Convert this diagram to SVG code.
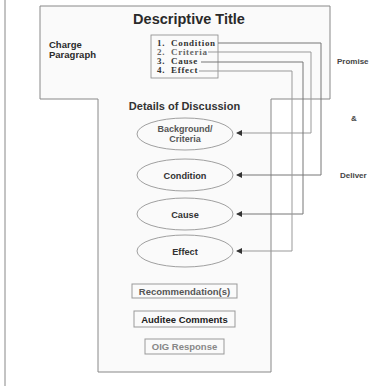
<svg xmlns="http://www.w3.org/2000/svg" width="371" height="386" viewBox="0 0 371 386">
<defs>
<style>
.b{font-family:"Liberation Sans",Arial,sans-serif;font-weight:bold}
.s{font-family:"Liberation Serif","Times New Roman",serif;font-weight:bold;font-size:9px;letter-spacing:0.7px;fill:#333}
.g{fill:#666}
.c{fill:none;stroke:#999;stroke-width:1}
.d{stroke:#777}
.e{fill:#fafafa;stroke:#888;stroke-width:0.8}
.r{fill:#fafafa;stroke:#999;stroke-width:1}
</style>
<marker id="ah" markerWidth="6" markerHeight="6" refX="5" refY="3" orient="auto" markerUnits="userSpaceOnUse">
<path d="M0,0 L6,3 L0,6 Z" fill="#333"/>
</marker>
</defs>
<rect width="371" height="386" fill="#fff"/>
<line x1="5" y1="0" x2="5" y2="386" stroke="#888" stroke-width="1"/>
<g id="frame">
<path d="M40,6 H330 V99 H271 V372 H98 V99 H40 Z" fill="#fafafa" stroke="#888" stroke-width="1"/>
</g>
<g id="title"><text class="b" x="189" y="24" font-size="14.5" text-anchor="middle" fill="#2a2a2a">Descriptive Title</text></g>
<g id="charge"><text class="b" x="49" y="48" font-size="9.5" fill="#2a2a2a">Charge</text><text class="b" x="49" y="58" font-size="9.5" fill="#2a2a2a">Paragraph</text></g>
<g id="list">
<rect x="151" y="35" width="67" height="43" fill="#fafafa" stroke="#888" stroke-width="0.8"/>
<text class="s" x="157" y="46">1.</text><text class="s" x="171" y="46">Condition</text>
<text class="s g" x="157" y="55">2.</text><text class="s g" x="171" y="55">Criteria</text>
<text class="s" x="157" y="64">3.</text><text class="s" x="171" y="64">Cause</text>
<text class="s" x="157" y="73">4.</text><text class="s" x="171" y="73">Effect</text>
</g>
<g id="details"><text class="b" x="184.5" y="109.5" font-size="11" text-anchor="middle" fill="#333">Details of Discussion</text></g>
<g id="connectors">
<polyline class="c d" points="218,43 321,43 321,175 237,175" marker-end="url(#ah)"/>
<polyline class="c" points="208,52 311,52 311,133 237,133" marker-end="url(#ah)"/>
<polyline class="c d" points="201,62 303,62 303,214 237,214" marker-end="url(#ah)"/>
<polyline class="c" points="199,71 292,71 292,251 237,251" marker-end="url(#ah)"/>
</g>
<g id="background"><ellipse class="e" cx="185" cy="134" rx="48" ry="16"/><text class="b" x="185" y="132" font-size="9" text-anchor="middle" fill="#555">Background/</text><text class="b" x="185" y="142" font-size="9" text-anchor="middle" fill="#555">Criteria</text></g>
<g id="condition"><ellipse class="e" cx="185" cy="175" rx="48" ry="16"/><text class="b" x="185" y="178.5" font-size="9.2" text-anchor="middle" fill="#333">Condition</text></g>
<g id="cause"><ellipse class="e" cx="185" cy="214" rx="48" ry="16"/><text class="b" x="185" y="217.5" font-size="9.2" text-anchor="middle" fill="#333">Cause</text></g>
<g id="effect"><ellipse class="e" cx="185" cy="251" rx="48" ry="16"/><text class="b" x="185" y="254.5" font-size="9.2" text-anchor="middle" fill="#333">Effect</text></g>
<g id="recommendations"><rect class="r" x="132" y="284" width="105" height="14"/><text class="b" x="184.5" y="294.5" font-size="9.5" text-anchor="middle" fill="#555">Recommendation(s)</text></g>
<g id="auditee"><rect class="r" x="134" y="311" width="101" height="16"/><text class="b" x="184.5" y="322.5" font-size="9.5" text-anchor="middle" fill="#222">Auditee Comments</text></g>
<g id="oig"><rect class="r" x="145" y="339" width="79" height="15"/><text class="b" x="184.5" y="350" font-size="9.5" text-anchor="middle" fill="#888">OIG Response</text></g>
<g id="side">
<text class="b" x="337" y="64" font-size="8" fill="#444">Promise</text>
<text class="b" x="351" y="121" font-size="8" fill="#444">&amp;</text>
<text class="b" x="340" y="178" font-size="8" fill="#444">Deliver</text>
</g>
</svg>
